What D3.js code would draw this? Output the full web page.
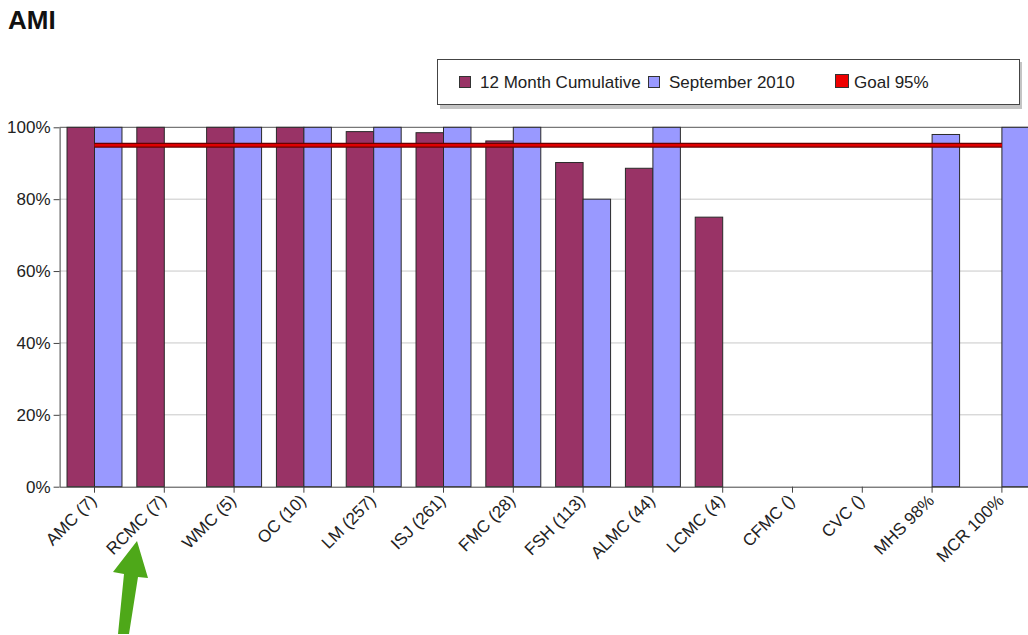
<!DOCTYPE html>
<html>
<head>
<meta charset="utf-8">
<script src="https://cdn.jsdelivr.net/npm/d3@7"></script>
<style>
  body { margin: 0; background: #fff; overflow: hidden; font-family: "Liberation Sans", Arial, sans-serif; }
</style>
</head>
<body>
<svg width="1028" height="635"></svg>
<script>
const categories = ['AMC (7)', 'RCMC (7)', 'WMC (5)', 'OC (10)', 'LM (257)', 'ISJ (261)', 'FMC (28)',
                    'FSH (113)', 'ALMC (44)', 'LCMC (4)', 'CFMC ()', 'CVC ()', 'MHS 98%', 'MCR 100%'];
const cumulative = [1, 1, 1, 1, 0.988, 0.985, 0.962, 0.902, 0.886, 0.75, null, null, null, null];
const september = [1, null, 1, 1, 1, 1, 1, 0.80, 1, null, null, null, 0.98, 1];
const goal = 0.95;
const yTicks = [0, 0.2, 0.4, 0.6, 0.8, 1];
const seriesNames = ['12 Month Cumulative', 'September 2010'];
const seriesColors = ['#993366', '#9999ff'];

const svg = d3.select('svg');

const plotLeft = 59.6,
      step = 69.8,
      plotTop = 127.3,
      plotBottom = 486.7;

const x = d3.scaleBand()
  .domain(categories)
  .range([plotLeft, plotLeft + step * categories.length]);

const x1 = d3.scaleBand()
  .domain(seriesNames)
  .range([0, x.bandwidth()])
  .paddingOuter(0.27);

const y = d3.scaleLinear()
  .domain([0, 1])
  .range([plotBottom, plotTop]);

// title
svg.append('text')
  .attr('x', 8)
  .attr('y', 29)
  .attr('font-size', 26)
  .attr('font-weight', 'bold')
  .attr('fill', '#111')
  .text('AMI');

// gridlines
svg.append('g')
  .selectAll('line')
  .data(yTicks.filter((d) => d > 0 && d < 1))
  .join('line')
    .attr('x1', plotLeft)
    .attr('x2', 1028)
    .attr('y1', (d) => y(d))
    .attr('y2', (d) => y(d))
    .attr('stroke', '#c8c8c8');

// top frame line
svg.append('line')
  .attr('x1', plotLeft).attr('x2', 1028)
  .attr('y1', y(1)).attr('y2', y(1))
  .attr('stroke', '#555');

// bars
const rows = categories.map((c, i) => ({ cat: c, values: [cumulative[i], september[i]] }));

svg.append('g')
  .selectAll('g')
  .data(rows)
  .join('g')
    .attr('transform', (d) => `translate(${x(d.cat)},0)`)
  .selectAll('rect')
  .data((d) => d.values.map((v, j) => ({ v, s: seriesNames[j], color: seriesColors[j] })).filter((e) => e.v != null))
  .join('rect')
    .attr('x', (d) => x1(d.s))
    .attr('y', (d) => y(d.v))
    .attr('width', x1.bandwidth())
    .attr('height', (d) => y(0) - y(d.v))
    .attr('fill', (d) => d.color)
    .attr('stroke', '#2a2a2a')
    .attr('stroke-width', 1);

// goal line
const gx1 = x(categories[0]) + x.bandwidth() / 2,
      gx2 = x(categories[categories.length - 1]) + x.bandwidth() / 2;
svg.append('line')
  .attr('x1', gx1).attr('x2', gx2)
  .attr('y1', y(goal)).attr('y2', y(goal))
  .attr('stroke', '#6a0000')
  .attr('stroke-width', 5);
svg.append('line')
  .attr('x1', gx1).attr('x2', gx2)
  .attr('y1', y(goal)).attr('y2', y(goal))
  .attr('stroke', '#e00000')
  .attr('stroke-width', 2.5);

// y axis
const yAxis = svg.append('g')
  .attr('transform', `translate(${plotLeft},0)`)
  .call(d3.axisLeft(y).tickValues(yTicks).tickFormat(d3.format('.0%')).tickSize(6).tickSizeOuter(0));
yAxis.select('.domain').attr('stroke', '#444');
yAxis.selectAll('.tick line').attr('stroke', '#444');
yAxis.selectAll('text')
  .attr('font-family', '"Liberation Sans", Arial, sans-serif')
  .attr('font-size', 17)
  .attr('fill', '#222')
  .attr('x', -9);

// x axis
const xAxis = svg.append('g')
  .attr('transform', `translate(0,${plotBottom})`)
  .call(d3.axisBottom(x).tickSize(6).tickSizeOuter(0));
xAxis.select('.domain').attr('stroke', '#444');
xAxis.selectAll('.tick line').attr('stroke', '#444');
xAxis.selectAll('text')
  .attr('font-family', '"Liberation Sans", Arial, sans-serif')
  .attr('font-size', 17)
  .attr('fill', '#222')
  .attr('text-anchor', 'end')
  .attr('y', 0)
  .attr('dy', 0)
  .attr('transform', 'translate(3,15) rotate(-45)');

// legend
const legend = svg.append('g');
legend.append('rect')
  .attr('x', 440).attr('y', 62)
  .attr('width', 582).attr('height', 47)
  .attr('fill', '#c4c4c4');
legend.append('rect')
  .attr('x', 437.5).attr('y', 59.5)
  .attr('width', 582).attr('height', 45)
  .attr('fill', '#fff')
  .attr('stroke', '#444');

const legendItems = [
  { label: seriesNames[0], color: seriesColors[0], x: 459.5, size: 11 },
  { label: seriesNames[1], color: seriesColors[1], x: 648.5, size: 11 },
  { label: 'Goal 95%', color: '#ee0000', x: 835.5, size: 13 }
];
const li = legend.selectAll('g.item')
  .data(legendItems)
  .join('g')
    .attr('class', 'item')
    .attr('transform', (d) => `translate(${d.x},${87.5 - d.size})`);
li.append('rect')
  .attr('width', (d) => d.size).attr('height', (d) => d.size)
  .attr('fill', (d) => d.color)
  .attr('stroke', '#333');
li.append('text')
  .attr('x', (d) => d.size + (d.size > 11 ? 5.5 : 9.5))
  .attr('y', (d) => d.size)
  .attr('font-size', 17)
  .attr('fill', '#222')
  .text((d) => d.label);

// green arrow pointing at RCMC
svg.append('path')
  .attr('d', 'M118,634 L129,634 L138,577 L148,578 L137,541 L113,572 L124,574 Z')
  .attr('fill', '#4ea819');
</script>
</body>
</html>
